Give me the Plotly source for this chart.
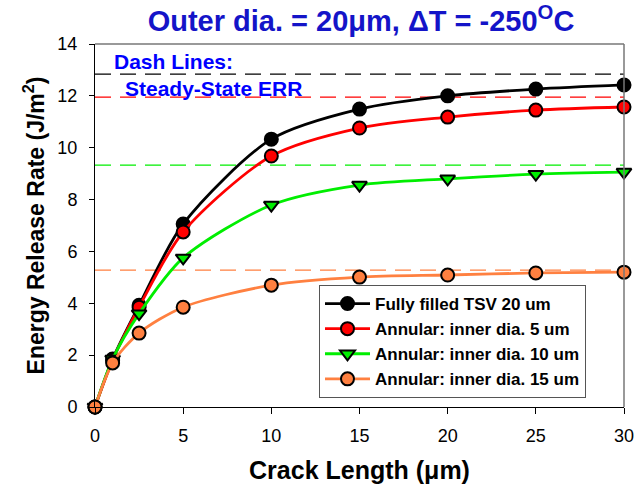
import plotly.graph_objects as go

crack_len = [0, 1, 2.5, 5, 10, 15, 20, 25, 30]
fully_filled = [0, 1.85, 3.92, 7.06, 10.33, 11.49, 12.0, 12.26, 12.42]
annular_5 = [0, 1.8, 3.85, 6.75, 9.68, 10.76, 11.18, 11.45, 11.57]
annular_10 = [0, 1.85, 3.6, 5.75, 7.79, 8.56, 8.8, 8.98, 9.06]
annular_15 = [0, 1.7, 2.85, 3.85, 4.7, 5.01, 5.09, 5.17, 5.2]
steady_state = [12.84, 11.95, 9.33, 5.28]

names = ["Fully filled TSV 20 um", "Annular: inner dia. 5 um",
         "Annular: inner dia. 10 um", "Annular: inner dia. 15 um"]
colors = ["#000000", "#FF0000", "#00EE00", "#FF8040"]
symbols = ["circle", "circle", "triangle-down", "circle"]
series = [fully_filled, annular_5, annular_10, annular_15]

fig = go.Figure()

# steady-state dashed lines
for ss, c in zip(steady_state, colors):
    fig.add_trace(go.Scatter(
        x=[crack_len[0], crack_len[-1]], y=[ss, ss], mode="lines",
        line=dict(color=c, width=1.3, dash="16px,9px"),
        showlegend=False, hoverinfo="skip", cliponaxis=False))

for name, vals, c, s in zip(names, series, colors, symbols):
    fig.add_trace(go.Scatter(
        x=crack_len, y=vals, name="<b>" + name + "</b>", mode="lines+markers",
        line=dict(color=c, width=2.8, shape="spline", smoothing=0.8),
        marker=dict(symbol=s, size=13, color=c, line=dict(color="black", width=2)),
        cliponaxis=False))

fig.update_layout(
    width=636, height=491,
    margin=dict(l=95, r=12, t=44, b=84),
    paper_bgcolor="white", plot_bgcolor="white",
    font=dict(family="Arial", color="black"),
    title=dict(
        text="<b>Outer dia. = 20μm, ΔT = -250<sup>O</sup>C</b>",
        x=361 / 636, xanchor="center", xref="container",
        y=1 - 21 / 491, yanchor="middle", yref="container",
        font=dict(size=29, color="#1414C8", family="Arial")),
    xaxis=dict(
        range=[0, 30], tickvals=[0, 5, 10, 15, 20, 25, 30],
        ticks="outside", ticklen=6, tickcolor="black", tickwidth=1,
        showline=True, linecolor="black", linewidth=1, mirror=False,
        showgrid=False, zeroline=False, automargin=False,
        ticklabelstandoff=6,
        tickfont=dict(size=18, family="Arial"),
        title=dict(text="<b>Crack Length (μm)</b>", font=dict(size=25), standoff=16)),
    yaxis=dict(
        range=[0, 14], tickvals=[0, 2, 4, 6, 8, 10, 12, 14],
        ticks="outside", ticklen=5, tickcolor="black", tickwidth=1,
        showline=True, linecolor="black", linewidth=1,
        showgrid=False, zeroline=False, automargin=False,
        ticklabelstandoff=8,
        tickfont=dict(size=18, family="Arial"),
        title=dict(text="<b>Energy Release Rate (J/m<sup>2</sup>)</b>", font=dict(size=23), standoff=6)),
    legend=dict(
        x=(319 - 95) / 529, y=(407 - 398) / 363, xanchor="left", yanchor="bottom",
        bordercolor="#555555", borderwidth=1, bgcolor="white",
        font=dict(size=17, family="Arial"), tracegroupgap=0,
        itemwidth=45),
    annotations=[
        dict(text="<b>Dash Lines:</b>", x=0.032, y=0.99, xref="paper", yref="paper",
             xanchor="left", yanchor="top", showarrow=False,
             font=dict(size=21, color="#0000FF", family="Arial")),
        dict(text="<b>Steady-State ERR</b>", x=0.052, y=0.915, xref="paper", yref="paper",
             xanchor="left", yanchor="top", showarrow=False,
             font=dict(size=21, color="#0000FF", family="Arial")),
    ],
    shapes=[
        dict(type="line", xref="paper", yref="paper", x0=0, x1=1, y0=1, y1=1,
             line=dict(color="#777777", width=1.5)),
        dict(type="line", xref="paper", yref="paper", x0=1, x1=1, y0=0, y1=1,
             line=dict(color="#777777", width=1.5)),
    ],
)

fig.write_html("out.html", config={"displayModeBar": False},
               post_script="document.body.style.margin='0px';document.body.style.overflow='hidden';")
